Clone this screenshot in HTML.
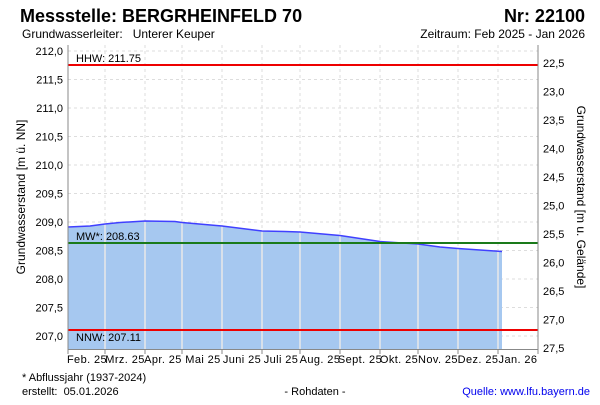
<!DOCTYPE html>
<html><head><meta charset="utf-8"><style>
body{margin:0;background:#fff;width:600px;height:400px;overflow:hidden;font-family:"Liberation Sans",sans-serif}
</style></head><body>
<svg width="600" height="400" xmlns="http://www.w3.org/2000/svg" font-family="Liberation Sans, sans-serif">
<text x="20" y="22" font-size="18" font-weight="bold">Messstelle: BERGRHEINFELD 70</text>
<text x="585" y="22" font-size="18" font-weight="bold" text-anchor="end">Nr: 22100</text>
<text x="22" y="38" font-size="12">Grundwasserleiter:&#160;&#160;&#160;Unterer Keuper</text>
<text x="585" y="38" font-size="12" text-anchor="end">Zeitraum: Feb 2025 - Jan 2026</text>
<g stroke="#ddd" stroke-dasharray="3,3" stroke-width="1">
<line x1="68" x2="538" y1="51" y2="51"/><line x1="68" x2="538" y1="79.5" y2="79.5"/><line x1="68" x2="538" y1="108" y2="108"/><line x1="68" x2="538" y1="136.5" y2="136.5"/><line x1="68" x2="538" y1="165" y2="165"/><line x1="68" x2="538" y1="193.5" y2="193.5"/><line x1="68" x2="538" y1="222" y2="222"/><line x1="68" x2="538" y1="250.5" y2="250.5"/><line x1="68" x2="538" y1="279" y2="279"/><line x1="68" x2="538" y1="307.5" y2="307.5"/><line x1="68" x2="538" y1="336" y2="336"/>
<line x1="105" x2="105" y1="45" y2="349"/><line x1="145" x2="145" y1="45" y2="349"/><line x1="182" x2="182" y1="45" y2="349"/><line x1="222" x2="222" y1="45" y2="349"/><line x1="262" x2="262" y1="45" y2="349"/><line x1="300" x2="300" y1="45" y2="349"/><line x1="340" x2="340" y1="45" y2="349"/><line x1="380" x2="380" y1="45" y2="349"/><line x1="418" x2="418" y1="45" y2="349"/><line x1="458" x2="458" y1="45" y2="349"/><line x1="498" x2="498" y1="45" y2="349"/>
</g>
<path d="M68,227 L90,226 L105,224 L120,222.5 L145,221 L175,221.5 L182,222.5 L222,226 L262,231 L285,231.5 L300,232 L340,235.5 L380,241.5 L418,244 L440,247 L458,248.5 L480,250 L502,251.5 L502,349 L68,349 Z" fill="#a6c8f0"/>
<g stroke="#e8e8e8" stroke-width="1.5"><line x1="105" x2="105" y1="224" y2="349"/><line x1="145" x2="145" y1="221" y2="349"/><line x1="182" x2="182" y1="222.5" y2="349"/><line x1="222" x2="222" y1="226" y2="349"/><line x1="262" x2="262" y1="231" y2="349"/><line x1="300" x2="300" y1="232" y2="349"/><line x1="340" x2="340" y1="235.5" y2="349"/><line x1="380" x2="380" y1="241.5" y2="349"/><line x1="418" x2="418" y1="244" y2="349"/><line x1="458" x2="458" y1="248.5" y2="349"/><line x1="498" x2="498" y1="251" y2="349"/></g>
<path d="M68,227 L90,226 L105,224 L120,222.5 L145,221 L175,221.5 L182,222.5 L222,226 L262,231 L285,231.5 L300,232 L340,235.5 L380,241.5 L418,244 L440,247 L458,248.5 L480,250 L502,251.5" fill="none" stroke="#4040ff" stroke-width="1.5"/>
<line x1="68" x2="538" y1="65" y2="65" stroke="#e00" stroke-width="2"/>
<line x1="68" x2="538" y1="243" y2="243" stroke="#1a7a1a" stroke-width="2"/>
<line x1="68" x2="538" y1="330" y2="330" stroke="#e00" stroke-width="2"/>
<text x="76" y="62" font-size="11">HHW: 211.75</text>
<text x="76" y="240" font-size="11">MW*: 208.63</text>
<text x="76" y="341" font-size="11">NNW: 207.11</text>
<g stroke="#888" fill="none"><line x1="68" x2="68" y1="45" y2="350"/><line x1="538" x2="538" y1="45" y2="350"/><line x1="68" x2="538" y1="349.5" y2="349.5"/></g>
<g stroke="#888"><line x1="68" x2="68" y1="349" y2="354"/><line x1="105" x2="105" y1="349" y2="354"/><line x1="145" x2="145" y1="349" y2="354"/><line x1="182" x2="182" y1="349" y2="354"/><line x1="222" x2="222" y1="349" y2="354"/><line x1="262" x2="262" y1="349" y2="354"/><line x1="300" x2="300" y1="349" y2="354"/><line x1="340" x2="340" y1="349" y2="354"/><line x1="380" x2="380" y1="349" y2="354"/><line x1="418" x2="418" y1="349" y2="354"/><line x1="458" x2="458" y1="349" y2="354"/><line x1="498" x2="498" y1="349" y2="354"/><line x1="538" x2="538" y1="349" y2="354"/></g>
<g font-size="11" text-anchor="end">
<text x="63" y="55">212,0</text><text x="63" y="83.5">211,5</text><text x="63" y="112">211,0</text><text x="63" y="140.5">210,5</text><text x="63" y="169">210,0</text><text x="63" y="197.5">209,5</text><text x="63" y="226">209,0</text><text x="63" y="254.5">208,5</text><text x="63" y="283">208,0</text><text x="63" y="311.5">207,5</text><text x="63" y="340">207,0</text>
</g>
<g font-size="11">
<text x="543" y="67">22,5</text><text x="543" y="95.5">23,0</text><text x="543" y="124">23,5</text><text x="543" y="152.5">24,0</text><text x="543" y="181">24,5</text><text x="543" y="209.5">25,0</text><text x="543" y="238">25,5</text><text x="543" y="266.5">26,0</text><text x="543" y="295">26,5</text><text x="543" y="323.5">27,0</text><text x="543" y="352">27,5</text>
</g>
<g font-size="11" text-anchor="middle" letter-spacing="0.4">
<text x="87" y="363">Feb. 25</text><text x="125" y="363">Mrz. 25</text><text x="163" y="363">Apr. 25</text><text x="203" y="363">Mai 25</text><text x="242" y="363">Juni 25</text><text x="281" y="363">Juli 25</text><text x="320" y="363">Aug. 25</text><text x="360" y="363">Sept. 25</text><text x="399" y="363">Okt. 25</text><text x="438" y="363">Nov. 25</text><text x="478" y="363">Dez. 25</text><text x="518" y="363">Jan. 26</text>
</g>
<text transform="translate(25,197) rotate(-90)" font-size="12" text-anchor="middle">Grundwasserstand [m ü. NN]</text>
<text transform="translate(577,197) rotate(90)" font-size="12" text-anchor="middle">Grundwasserstand [m u. Gelände]</text>
<text x="22" y="381" font-size="11">* Abflussjahr (1937-2024)</text>
<text x="22" y="395" font-size="11">erstellt:&#160;&#160;05.01.2026</text>
<text x="315" y="395" font-size="11" text-anchor="middle">- Rohdaten -</text>
<text x="590" y="395" font-size="11" fill="#0000ee" text-anchor="end">Quelle: www.lfu.bayern.de</text>
</svg>
</body></html>
